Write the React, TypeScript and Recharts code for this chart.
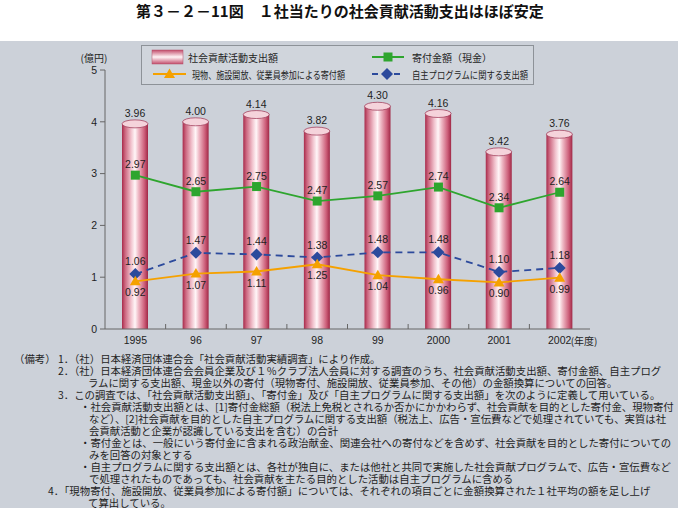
import React from "react";
import { ComposedChart, Bar, Line, XAxis, YAxis, Legend, LabelList } from "recharts";

const years = ["1995", "96", "97", "98", "99", "2000", "2001", "2002"];
const totalSpend = [3.96, 4.0, 4.14, 3.82, 4.3, 4.16, 3.42, 3.76];
const cashDonation = [2.97, 2.65, 2.75, 2.47, 2.57, 2.74, 2.34, 2.64];
const ownProgram = [1.06, 1.47, 1.44, 1.38, 1.48, 1.48, 1.1, 1.18];
const inKindDonation = [0.92, 1.07, 1.11, 1.25, 1.04, 0.96, 0.9, 0.99];
const yTicks = [0, 1, 2, 3, 4, 5];

const data = years.map((year, i) => ({
  year,
  total: totalSpend[i],
  cash: cashDonation[i],
  program: ownProgram[i],
  inKind: inKindDonation[i],
}));

const W = 678;
const CHART_H = 350;
const M = { top: 70, right: 88, left: 83, bottom: 1 };
const PLOT_W = W - M.left - 22 - M.right;
const STEP = PLOT_W / years.length;

const NUM_FONT = "'Liberation Sans', Arial, sans-serif";
const JP_FONT = "'Noto Sans CJK JP', sans-serif";
const TEXT = "#1e1e1e";

const GREEN = "#2ea52e";
const BLUE = "#2c4a9c";
const ORANGE = "#f5a100";

function Cylinder(props: any) {
  const { x, y, width, height, index } = props;
  const id = `cyl-${index}`;
  const ry = 4;
  return (
    <g>
      <defs>
        <linearGradient id={id} x1="0" y1="0" x2="1" y2="0">
          <stop offset="0" stopColor="#a82b4b" />
          <stop offset="0.12" stopColor="#cc6780" />
          <stop offset="0.35" stopColor="#f1c2cd" />
          <stop offset="0.5" stopColor="#fff6f8" />
          <stop offset="0.63" stopColor="#efbac6" />
          <stop offset="0.86" stopColor="#cd5f7a" />
          <stop offset="1" stopColor="#a02846" />
        </linearGradient>
      </defs>
      <rect x={x} y={y} width={width} height={height} fill={`url(#${id})`} />
      <ellipse cx={x + width / 2} cy={y} rx={width / 2} ry={ry} fill="#f5d3db" stroke="#9a3050" strokeWidth={0.7} />
    </g>
  );
}

const SquareDot = (p: any) => (
  <rect key={p.key} x={p.cx - 4.5} y={p.cy - 4.5} width={9} height={9} fill={GREEN} />
);
const DiamondDot = (p: any) => (
  <path key={p.key} d={`M${p.cx},${p.cy - 6}L${p.cx + 6},${p.cy}L${p.cx},${p.cy + 6}L${p.cx - 6},${p.cy}Z`} fill={BLUE} />
);
const TriangleDot = (p: any) => (
  <path key={p.key} d={`M${p.cx},${p.cy - 5.5}L${p.cx + 5.5},${p.cy + 4}L${p.cx - 5.5},${p.cy + 4}Z`} fill={ORANGE} />
);

const makeLabel = (dy: number) => (p: any) => {
  const cx = Number(p.x) + (Number(p.width) || 0) / 2;
  return (
    <text
      x={cx}
      y={Number(p.y) + dy}
      textAnchor="middle"
      dominantBaseline="central"
      fontSize={10.5}
      fontFamily={NUM_FONT}
      fill={TEXT}
    >
      {Number(p.value).toFixed(2)}
    </text>
  );
};

function YearTick(p: any) {
  const { x, y, payload, index } = p;
  const last = index === years.length - 1;
  return (
    <g>
      {!last && (
        <line x1={x + STEP / 2} x2={x + STEP / 2} y1={y} y2={y - 5} stroke="#666" />
      )}
      <text x={x} y={y + 11} textAnchor="middle" dominantBaseline="central" fontSize={10.5} fontFamily={NUM_FONT} fill={TEXT}>
        {payload.value}
      </text>
      {last && (
        <text x={x + 11} y={y + 11} dominantBaseline="central" fontSize={10} fontFamily={JP_FONT} fill={TEXT}>
          (年度)
        </text>
      )}
    </g>
  );
}

function LegendBox() {
  const txt = { fontSize: 10, fontFamily: JP_FONT, fill: TEXT, dominantBaseline: "central" as const };
  return (
    <svg width={393} height={40} style={{ overflow: "visible", display: "block" }}>
      <defs>
        <linearGradient id="legSwatch" x1="0" y1="0" x2="0" y2="1">
          <stop offset="0" stopColor="#c34d6c" />
          <stop offset="0.5" stopColor="#fff4f6" />
          <stop offset="1" stopColor="#c34d6c" />
        </linearGradient>
      </defs>
      <rect x={0.5} y={0.5} width={392} height={39} fill="#d0d5dc" stroke="#8d9298" />
      <rect x={11} y={5} width={31} height={14} fill="url(#legSwatch)" stroke="#b0506a" strokeWidth={0.5} />
      <text x={47} y={12} {...txt}>社会貢献活動支出額</text>

      <line x1={231} x2={263} y1={12} y2={12} stroke={GREEN} strokeWidth={2} />
      <rect x={242.5} y={7.5} width={9} height={9} fill={GREEN} />
      <text x={271} y={12} {...txt}>寄付金額（現金）</text>

      <line x1={12} x2={45} y1={29} y2={29} stroke={ORANGE} strokeWidth={2} />
      <path d="M28.5,23.5L34,33L23,33Z" fill={ORANGE} />
      <text x={51} y={29} {...txt} textLength={153} lengthAdjust="spacingAndGlyphs">
        現物、施設開放、従業員参加による寄付額
      </text>

      <line x1={231} x2={263} y1={29} y2={29} stroke={BLUE} strokeWidth={2} strokeDasharray="6 5" />
      <path d="M246,23L252,29L246,35L240,29Z" fill={BLUE} />
      <text x={271} y={29} {...txt} textLength={116} lengthAdjust="spacingAndGlyphs">
        自主プログラムに関する支出額
      </text>
    </svg>
  );
}

const notes: { x: number; t: string }[] = [
  { x: 58, t: "1．（社）日本経済団体連合会「社会貢献活動実績調査」により作成。" },
  { x: 58, t: "2．（社）日本経済団体連合会会員企業及び１％クラブ法人会員に対する調査のうち、社会貢献活動支出額、寄付金額、自主プログ" },
  { x: 88, t: "ラムに関する支出額、現金以外の寄付（現物寄付、施設開放、従業員参加、その他）の金額換算についての回答。" },
  { x: 58, t: "3．この調査では、「社会貢献活動支出額」、「寄付金」及び「自主プログラムに関する支出額」を次のように定義して用いている。" },
  { x: 80, t: "・社会貢献活動支出額とは、[1]寄付金総額（税法上免税とされるか否かにかかわらず、社会貢献を目的とした寄付金、現物寄付" },
  { x: 89, t: "など）、[2]社会貢献を目的とした自主プログラムに関する支出額（税法上、広告・宣伝費などで処理されていても、実質は社" },
  { x: 89, t: "会貢献活動と企業が認識している支出を含む）の合計" },
  { x: 80, t: "・寄付金とは、一般にいう寄付金に含まれる政治献金、関連会社への寄付などを含めず、社会貢献を目的とした寄付についての" },
  { x: 89, t: "みを回答の対象とする" },
  { x: 80, t: "・自主プログラムに関する支出額とは、各社が独自に、または他社と共同で実施した社会貢献プログラムで、広告・宣伝費など" },
  { x: 89, t: "で処理されたものであっても、社会貢献を主たる目的とした活動は自主プログラムに含める" },
  { x: 48, t: "4．「現物寄付、施設開放、従業員参加による寄付額」については、それぞれの項目ごとに金額換算された１社平均の額を足し上げ" },
  { x: 88, t: "て算出している。" },
];

export default function App() {
  return (
    <div style={styles.page}>
      <div style={styles.title}>第３－２－11図　１社当たりの社会貢献活動支出はほぼ安定</div>
      <div style={styles.panel} />

      <div style={styles.chartBox}>
        <ComposedChart width={W} height={CHART_H} data={data} margin={M}>
          <XAxis
            dataKey="year"
            tick={<YearTick />}
            tickLine={false}
            tickSize={0}
            tickMargin={0}
            height={20}
            axisLine={{ stroke: "#666" }}
            interval={0}
          />
          <YAxis
            domain={[0, 5]}
            ticks={yTicks}
            width={22}
            tickSize={5}
            tickMargin={3}
            axisLine={{ stroke: "#666" }}
            tickLine={{ stroke: "#666" }}
            tick={{ fontSize: 10.5, fill: TEXT, fontFamily: NUM_FONT }}
            label={{ value: "(億円)", position: "top", offset: 8, fontSize: 10, fill: TEXT, fontFamily: JP_FONT }}
          />
          <Legend
            content={<LegendBox />}
            wrapperStyle={{ position: "absolute", left: 141, top: 45, width: 393, height: 0, margin: 0 }}
          />
          <Bar dataKey="total" name="社会貢献活動支出額" barSize={26} shape={<Cylinder />} isAnimationActive={false}>
            <LabelList dataKey="total" content={makeLabel(-11)} />
          </Bar>
          <Line
            dataKey="cash"
            name="寄付金額（現金）"
            stroke={GREEN}
            strokeWidth={1.8}
            dot={SquareDot}
            activeDot={false}
            isAnimationActive={false}
          >
            <LabelList dataKey="cash" content={makeLabel(-11)} />
          </Line>
          <Line
            dataKey="program"
            name="自主プログラムに関する支出額"
            stroke={BLUE}
            strokeWidth={1.8}
            strokeDasharray="7 5"
            dot={DiamondDot}
            activeDot={false}
            isAnimationActive={false}
          >
            <LabelList dataKey="program" content={makeLabel(-13)} />
          </Line>
          <Line
            dataKey="inKind"
            name="現物、施設開放、従業員参加による寄付額"
            stroke={ORANGE}
            strokeWidth={1.8}
            dot={TriangleDot}
            activeDot={false}
            isAnimationActive={false}
          >
            <LabelList dataKey="inKind" content={makeLabel(11)} />
          </Line>
        </ComposedChart>
      </div>

      <div style={{ ...styles.note, top: 353, left: 14 }}>（備考）</div>
      {notes.map((line, i) => (
        <div key={i} style={{ ...styles.note, top: 353 + i * 12, left: line.x }}>
          {line.t}
        </div>
      ))}
    </div>
  );
}

const styles: Record<string, React.CSSProperties> = {
  page: {
    position: "absolute",
    left: 0,
    top: 0,
    width: W,
    height: 511,
    background: "#ffffff",
    overflow: "hidden",
  },
  title: {
    position: "absolute",
    left: 136,
    top: 0,
    height: 22,
    lineHeight: "22px",
    fontSize: 15,
    fontWeight: 700,
    fontFamily: JP_FONT,
    color: "#111",
    whiteSpace: "nowrap",
  },
  panel: {
    position: "absolute",
    left: 0,
    top: 41,
    width: W,
    height: 467,
    background: "#ccd1d9",
  },
  chartBox: {
    position: "absolute",
    left: 0,
    top: 0,
  },
  note: {
    position: "absolute",
    fontSize: 10.4,
    lineHeight: "12px",
    fontFamily: JP_FONT,
    color: TEXT,
    whiteSpace: "nowrap",
  },
};
